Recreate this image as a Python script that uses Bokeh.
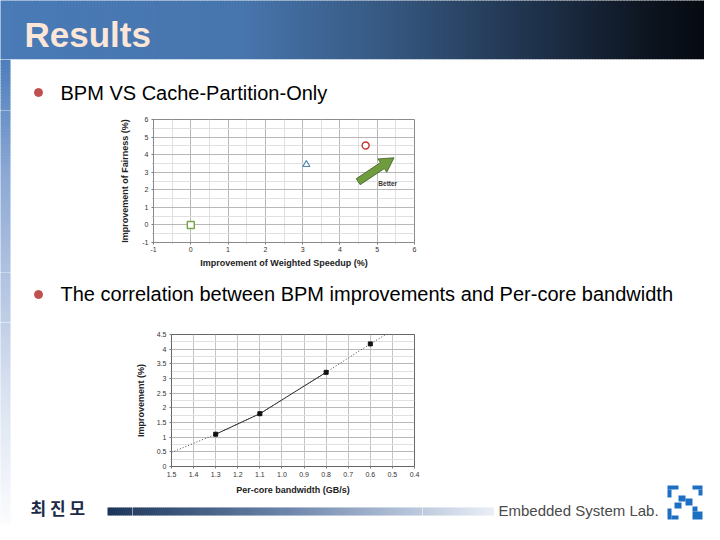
from bokeh.plotting import figure
from bokeh.layouts import column, row
from bokeh.models import Range1d, FixedTicker
from bokeh.core.properties import value
from bokeh.embed import file_html
from bokeh.resources import INLINE

# ---------------- data ----------------
title_text = "Results"
bullet1_text = "BPM VS Cache-Partition-Only"
bullet2_text = "The correlation between BPM improvements and Per-core bandwidth"
author_text = "최 진 모"
lab_text = "Embedded System Lab."

# chart 1: BPM vs Cache-Partition-Only
c1_speedup = [0.0, 3.1, 4.69]        # Improvement of Weighted Speedup (%)
c1_fairness = [0.0, 3.44, 4.52]      # Improvement of Fairness (%)
c1_xticks = [-1, 0, 1, 2, 3, 4, 5, 6]
c1_yticks = [-1, 0, 1, 2, 3, 4, 5, 6]
c1_xlabels = ["-1", "0", "1", "2", "3", "4", "5", "6"]
c1_ylabels = ["-1", "0", "1", "2", "3", "4", "5", "6"]
c1_arrow_from = (4.49, 2.46)
c1_arrow_to = (5.45, 3.82)
c1_note = "Better"
c1_note_pos = (5.03, 2.33)

# chart 2: improvement vs per-core bandwidth
c2_bandwidth = [1.3, 1.1, 0.8, 0.6]
c2_improvement = [1.1, 1.8, 3.21, 4.18]
c2_trend_bw = [1.5, 1.3, 1.1, 0.8, 0.6, 0.53]
c2_trend_imp = [0.48, 1.1, 1.8, 3.21, 4.18, 4.5]
c2_xticks = [1.5, 1.4, 1.3, 1.2, 1.1, 1.0, 0.9, 0.8, 0.7, 0.6, 0.5, 0.4]
c2_xlabels = ["1.5", "1.4", "1.3", "1.2", "1.1", "1.0", "0.9", "0.8", "0.7", "0.6", "0.5", "0.4"]
c2_yticks = [0, 0.5, 1, 1.5, 2, 2.5, 3, 3.5, 4, 4.5]
c2_ylabels = ["0", "0.5", "1", "1.5", "2", "2.5", "3", "3.5", "4", "4.5"]

FONT = "Liberation Sans"


# ---------------- helpers ----------------
def hexc(c):
    return tuple(int(c[i:i + 2], 16) for i in (1, 3, 5))


def grad(stops, t):
    for (p0, c0), (p1, c1) in zip(stops, stops[1:]):
        if p0 <= t <= p1:
            f = (t - p0) / (p1 - p0) if p1 > p0 else 0
            a, b = hexc(c0), hexc(c1)
            return "#%02x%02x%02x" % tuple(int(round(a[i] + (b[i] - a[i]) * f)) for i in range(3))
    return stops[-1][1] if t > stops[-1][0] else stops[0][1]


TITLE_STOPS = [(0, "#4a7bb7"), (250, "#4775ad"), (400, "#35577f"), (550, "#1e3049"),
               (650, "#0e1622"), (720, "#05080e")]
STRIP_STOPS = [(67, "#4d7eba"), (180, "#8ba8d4"), (300, "#b6c7e3"), (400, "#d9e2f1"),
               (480, "#eef2f8"), (532, "#fbfcfe")]
BAR_STOPS = [(115, "#1d3558"), (300, "#7088ad"), (420, "#b8c6db"), (500, "#e9eef6")]


def panel(x0, x1, y0, y1):
    p = figure(width=x1 - x0, height=y1 - y0, x_range=Range1d(x0, x1), y_range=Range1d(y1, y0),
               toolbar_location=None, output_backend="svg", min_border=0,
               x_axis_location=None, y_axis_location=None)
    p.frame_align = False
    p.outline_line_color = None
    p.grid.visible = False
    p.background_fill_color = "white"
    p.border_fill_color = "white"
    # title bar gradient
    xs = list(range(0, 720, 3))
    p.quad(left=xs, right=[x + 3.5 for x in xs], bottom=[67] * len(xs), top=[0] * len(xs),
           fill_color=[grad(TITLE_STOPS, x + 1.5) for x in xs], line_color=None)
    # left strip gradient
    ys = list(range(67, 532, 3))
    p.quad(left=[0] * len(ys), right=[18] * len(ys), bottom=[y + 3.5 for y in ys], top=ys,
           fill_color=[grad(STRIP_STOPS, y + 1.5) for y in ys], line_color=None)
    # footer bar gradient
    bx = list(range(115, 500, 2))
    p.quad(left=bx, right=[x + 2.5 for x in bx], bottom=[523] * len(bx), top=[515] * len(bx),
           fill_color=[grad(BAR_STOPS, x + 1) for x in bx], line_color=None)
    return p


def style_chart(p):
    p.frame_align = False
    p.outline_line_color = "#8a8a8a"
    p.background_fill_color = "white"
    p.border_fill_color = "white"
    for ax in p.axis:
        ax.axis_line_color = None
        ax.major_tick_line_color = "#777777"
        ax.minor_tick_line_color = "#999999"
        ax.major_tick_out = 2
        ax.major_tick_in = 0
        ax.minor_tick_out = 1
        ax.minor_tick_in = 0
        ax.major_label_text_font = FONT
        ax.major_label_text_font_size = "7px"
        ax.major_label_text_color = "#333333"
        ax.axis_label_text_font = FONT
        ax.axis_label_text_font_style = "bold"
        ax.axis_label_text_font_size = "9px"
        ax.axis_label_text_color = "#222222"
    for g in p.grid:
        g.grid_line_color = "#b8b8b8"
        g.grid_line_width = 1
        g.minor_grid_line_color = "#e0e0e0"


# ---------------- header ----------------
header = panel(8, 712, 8, 67)
header.text(x=[32], y=[42], text=[title_text], text_font=value(FONT), text_font_style="bold",
            text_font_size="35px", text_color="#fbe6d8", text_baseline="middle")

# ---------------- bullet 1 ----------------
b1 = panel(8, 712, 67, 118)
b1.scatter(x=[46], y=[100], size=8, color="#c0504d")
b1.text(x=[68], y=[100], text=[bullet1_text], text_font=value(FONT), text_font_size="20px",
        text_color="black", text_baseline="middle")

# ---------------- chart 1 ----------------
c1 = figure(width=305, height=162, x_range=Range1d(-1, 6), y_range=Range1d(-1, 6),
            toolbar_location=None, output_backend="svg",
            min_border_left=35, min_border_right=8, min_border_top=9, min_border_bottom=30)
c1.xaxis.ticker = FixedTicker(ticks=c1_xticks, minor_ticks=[t + 0.5 for t in c1_xticks[:-1]])
c1.yaxis.ticker = FixedTicker(ticks=c1_yticks, minor_ticks=[t + 0.5 for t in c1_yticks[:-1]])
c1.xaxis.major_label_overrides = dict(zip(c1_xticks, c1_xlabels))
c1.yaxis.major_label_overrides = dict(zip(c1_yticks, c1_ylabels))
c1.xaxis.axis_label = "Improvement of Weighted Speedup (%)"
c1.yaxis.axis_label = "Improvement of Fairness (%)"
style_chart(c1)
c1.xaxis.major_label_standoff = 2
c1.xaxis.axis_label_standoff = 3
c1.yaxis.major_label_standoff = 3
c1.yaxis.axis_label_standoff = 9

c1.scatter(x=[c1_speedup[0]], y=[c1_fairness[0]], marker="square", size=7,
           fill_color="white", line_color="#79a54a", line_width=1.4)
c1.scatter(x=[c1_speedup[1]], y=[c1_fairness[1]], marker="triangle", size=7,
           fill_color="white", line_color="#4f88b0", line_width=1.2)
c1.scatter(x=[c1_speedup[2]], y=[c1_fairness[2]], marker="circle", size=7,
           fill_color="white", line_color="#cc3333", line_width=1.4)

# arrow (built in pixel space, converted back to data units)
sx = 262 / 7.0
sy = 123 / 7.0
tx, ty = c1_arrow_from[0] * sx, c1_arrow_from[1] * sy
hx, hy = c1_arrow_to[0] * sx, c1_arrow_to[1] * sy
L = ((hx - tx) ** 2 + (hy - ty) ** 2) ** 0.5
ux, uy = (hx - tx) / L, (hy - ty) / L
nx, ny = -uy, ux
hw, hh, hl = 3.6, 8.0, 14.0
kx, ky = hx - ux * hl, hy - uy * hl
pts = [(tx + nx * hw, ty + ny * hw), (kx + nx * hw, ky + ny * hw), (kx + nx * hh, ky + ny * hh),
       (hx, hy), (kx - nx * hh, ky - ny * hh), (kx - nx * hw, ky - ny * hw),
       (tx - nx * hw, ty - ny * hw)]
c1.patch(x=[p_[0] / sx for p_ in pts], y=[p_[1] / sy for p_ in pts],
         fill_color="#6f9c3c", line_color="#3d5a22", line_width=0.8)
c1.text(x=[c1_note_pos[0]], y=[c1_note_pos[1]], text=[c1_note], text_font=value(FONT),
        text_font_style="bold", text_font_size="6.5px", text_color="#333333",
        text_baseline="middle")

row1 = row(panel(8, 125, 118, 280), c1, panel(430, 712, 118, 280))

# ---------------- bullet 2 ----------------
b2 = panel(8, 712, 280, 330)
b2.scatter(x=[46], y=[302], size=8, color="#c0504d")
b2.text(x=[68], y=[301], text=[bullet2_text], text_font=value(FONT), text_font_size="20px",
        text_color="black", text_baseline="middle")

# ---------------- chart 2 ----------------
c2 = figure(width=290, height=175, x_range=Range1d(1.5, 0.4), y_range=Range1d(0, 4.5),
            toolbar_location=None, output_backend="svg",
            min_border_left=35, min_border_right=8, min_border_top=12, min_border_bottom=29)
c2.xaxis.ticker = FixedTicker(ticks=c2_xticks, minor_ticks=[])
c2.yaxis.ticker = FixedTicker(ticks=c2_yticks, minor_ticks=[t + 0.25 for t in c2_yticks[:-1]])
c2.xaxis.major_label_overrides = dict(zip(c2_xticks, c2_xlabels))
c2.yaxis.major_label_overrides = dict(zip(c2_yticks, c2_ylabels))
c2.xaxis.axis_label = "Per-core bandwidth (GB/s)"
c2.yaxis.axis_label = "Improvement (%)"
style_chart(c2)
c2.xaxis.major_label_standoff = 3
c2.xaxis.axis_label_standoff = 5
c2.yaxis.major_label_standoff = 3
c2.yaxis.axis_label_standoff = 8
c2.outline_line_color = "#666666"
c2.xgrid.grid_line_color = "#c4c4c4"

c2.line(x=c2_trend_bw, y=c2_trend_imp, line_color="#444444", line_width=1, line_dash="1 2")
c2.line(x=c2_bandwidth[:3], y=c2_improvement[:3], line_color="#333333", line_width=1)
c2.scatter(x=c2_bandwidth, y=c2_improvement, marker="square", size=4,
           fill_color="#111111", line_color="#111111")

left_bottom = panel(8, 140, 330, 532)
left_bottom.text(x=[38], y=[515], text=[author_text], text_font=value("Noto Sans CJK KR"),
                 text_font_style="bold", text_font_size="17px", text_color="#1b2a48",
                 text_baseline="middle")

right_bottom = panel(430, 712, 330, 532)
right_bottom.text(x=[506], y=[518], text=[lab_text], text_font=value(FONT),
                  text_font_size="15px", text_color="#4a4a4a", text_baseline="middle")
# logo blocks (decoration)
logo = [(675, 686, 493, 497), (675, 679, 497, 505), (700, 710, 493, 497), (706, 710, 497, 503),
        (686, 693, 503, 509), (693, 700, 506, 513), (682, 689, 510, 516),
        (675, 679, 516, 527), (679, 686, 523, 527), (700, 710, 519, 527), (700, 705, 514, 519)]
right_bottom.quad(left=[b[0] for b in logo], right=[b[1] for b in logo],
                  top=[b[2] for b in logo], bottom=[b[3] for b in logo],
                  fill_color="#1d6fc2", line_color=None)

mid_bottom = panel(140, 430, 505, 532)

row2 = row(left_bottom, column(c2, mid_bottom), right_bottom)

layout = column(header, b1, row1, b2, row2)

open("out.html", "w").write(file_html(layout, INLINE))
